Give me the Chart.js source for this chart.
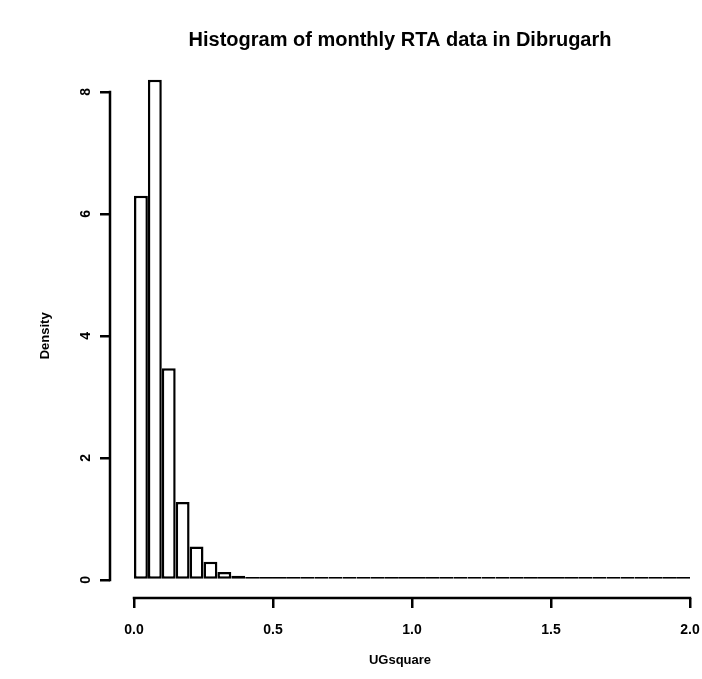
<!DOCTYPE html>
<html>
<head>
<meta charset="utf-8">
<title>Histogram of monthly RTA data in Dibrugarh</title>
<script src="https://cdn.jsdelivr.net/npm/chart.js@4.4.1/dist/chart.umd.min.js"></script>
<style>
  html, body { margin: 0; padding: 0; background: #fff; }
  #wrap { width: 702px; height: 679px; }
</style>
</head>
<body>
<div id="wrap"><canvas id="hist"></canvas></div>
<script>
'use strict';

// histogram bins: lower edge of each bin, all 0.05 wide
var binStarts = [
  0.00, 0.05, 0.10, 0.15, 0.20, 0.25, 0.30, 0.35, 0.40, 0.45,
  0.50, 0.55, 0.60, 0.65, 0.70, 0.75, 0.80, 0.85, 0.90, 0.95,
  1.00, 1.05, 1.10, 1.15, 1.20, 1.25, 1.30, 1.35, 1.40, 1.45,
  1.50, 1.55, 1.60, 1.65, 1.70, 1.75, 1.80, 1.85, 1.90, 1.95
];
var binWidth = 0.05;

// density (tail bins are almost flat on the baseline)
var densities = [
  6.30, 8.20, 3.47, 1.28, 0.55, 0.30, 0.13, 0.07, 0.05, 0.05,
  0.05, 0.05, 0.05, 0.05, 0.05, 0.05, 0.05, 0.05, 0.05, 0.05,
  0.05, 0.05, 0.05, 0.05, 0.05, 0.05, 0.05, 0.05, 0.05, 0.05,
  0.05, 0.05, 0.05, 0.05, 0.05, 0.05, 0.05, 0.05, 0.05, 0.05
];

var xTickValues = [0, 0.5, 1, 1.5, 2];
var xTickLabels = ['0.0', '0.5', '1.0', '1.5', '2.0'];
var yTickValues = [0, 2, 4, 6, 8];
var yTickLabels = ['0', '2', '4', '6', '8'];

var titleText = 'Histogram of monthly RTA data in Dibrugarh';
var xTitleText = 'UGsquare';
var yTitleText = 'Density';

var FONT = '"Liberation Sans", Arial, sans-serif';

// R style axes: the axis line only runs from the first to the last tick
var rAxes = {
  id: 'rAxes',
  afterDraw: function (chart) {
    var ctx = chart.ctx;
    var x = chart.scales.x;
    var y = chart.scales.y;
    ctx.save();
    ctx.strokeStyle = '#000';
    ctx.lineWidth = 2.5;
    ctx.lineCap = 'square';
    ctx.beginPath();
    ctx.moveTo(y.right, y.getPixelForValue(yTickValues[0]));
    ctx.lineTo(y.right, y.getPixelForValue(yTickValues[yTickValues.length - 1]));
    ctx.moveTo(x.getPixelForValue(xTickValues[0]), x.top);
    ctx.lineTo(x.getPixelForValue(xTickValues[xTickValues.length - 1]), x.top);
    ctx.stroke();
    ctx.restore();
  }
};

var points = binStarts.map(function (b, i) {
  return { x: b + binWidth / 2, y: densities[i] };
});

var ctx = document.getElementById('hist').getContext('2d');
var chart = new Chart(ctx, {
  type: 'bar',
  data: {
    datasets: [{
      data: points,
      backgroundColor: '#ffffff',
      borderColor: '#000000',
      borderWidth: 2.5,
      borderSkipped: false,
      inflateAmount: 0,
      categoryPercentage: 1.0,
      barPercentage: 1.0
    }]
  },
  options: {
    responsive: true,
    maintainAspectRatio: false,
    animation: false,
    layout: { padding: { left: 0, right: 0, top: 0, bottom: 0 } },
    plugins: {
      legend: { display: false },
      tooltip: { enabled: false },
      title: {
        display: true,
        text: titleText,
        fullSize: false,
        color: '#000',
        font: { family: FONT, size: 20, weight: 'bold' },
        padding: { top: 28, bottom: 21.7 }
      }
    },
    scales: {
      x: {
        type: 'linear',
        offset: false,
        min: -0.0863,
        max: 2,
        afterBuildTicks: function (scale) {
          scale.ticks = xTickValues.map(function (v) { return { value: v }; });
        },
        afterFit: function (scale) {
          scale.height = 81;
          scale.paddingLeft = 0;
          scale.paddingRight = 12;
        },
        border: { display: false },
        grid: {
          display: true,
          offset: false,
          drawOnChartArea: false,
          drawTicks: true,
          tickLength: 10,
          lineWidth: 2.5,
          color: '#000'
        },
        ticks: {
          autoSkip: false,
          maxRotation: 0,
          padding: 14,
          color: '#000',
          font: { family: FONT, size: 14, weight: 'bold' },
          callback: function (v, i) { return xTickLabels[i]; }
        },
        title: {
          display: true,
          text: xTitleText,
          color: '#000',
          font: { family: FONT, size: 13, weight: 'bold' },
          padding: { top: 0, bottom: 11 }
        }
      },
      y: {
        type: 'linear',
        min: -0.295,
        max: 8.3,
        afterBuildTicks: function (scale) {
          scale.ticks = yTickValues.map(function (v) { return { value: v }; });
        },
        afterFit: function (scale) { scale.width = 110; },
        border: { display: false },
        grid: {
          display: true,
          drawOnChartArea: false,
          drawTicks: true,
          tickLength: 10,
          lineWidth: 2.5,
          color: '#000'
        },
        ticks: {
          autoSkip: false,
          minRotation: 90,
          maxRotation: 90,
          padding: 14,
          labelOffset: -4,
          color: '#000',
          font: { family: FONT, size: 14, weight: 'bold' },
          callback: function (v, i) { return yTickLabels[i]; }
        },
        title: {
          display: true,
          text: yTitleText,
          color: '#000',
          font: { family: FONT, size: 13, weight: 'bold' },
          padding: { top: 38, bottom: 0 }
        }
      }
    }
  },
  plugins: [rAxes]
});
</script>
</body>
</html>
